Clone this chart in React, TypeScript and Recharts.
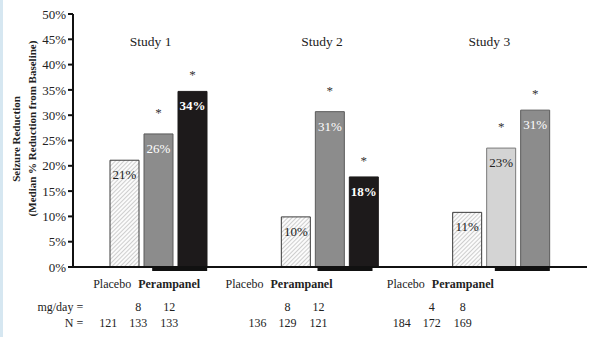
import React from 'react';
import { BarChart, Bar, XAxis, YAxis, Cell, LabelList } from 'recharts';

// ---------- data ----------
const studies = ['Study 1', 'Study 2', 'Study 3'];
const placebo = [21.1, 9.9, 10.8];
const doseLow = [26.3, 30.7, 23.5];
const doseHigh = [34.7, 17.8, 31.0];
const placeboLabels = ['21%', '10%', '11%'];
const doseLowLabels = ['26%', '31%', '23%'];
const doseHighLabels = ['34%', '18%', '31%'];
const doseLowSignificant = [true, true, true];
const doseHighSignificant = [true, true, true];
const doseLowMg = ['8', '8', '4'];
const doseHighMg = ['12', '12', '8'];
const nPlacebo = ['121', '136', '184'];
const nLow = ['133', '129', '172'];
const nHigh = ['133', '121', '169'];
const yTicks = [0, 5, 10, 15, 20, 25, 30, 35, 40, 45, 50];

// ---------- styles ----------
const FONT = '"Liberation Serif", "Times New Roman", Times, serif';
const INK = '#222';
const GRAY = '#8c8c8c';
const BLACK = '#1d1a1b';
const LIGHT = '#d4d4d4';
const lowFill = [GRAY, GRAY, LIGHT];
const lowStroke = ['#5a5a5a', '#5a5a5a', '#7a7a7a'];
const highFill = [BLACK, BLACK, GRAY];
const highStroke = [BLACK, BLACK, '#5a5a5a'];
const lowText = ['#fff', '#fff', INK];
const highText = ['#fff', '#fff', '#fff'];
const highBold = [true, true, false];

// layout shifts of the per-study annotation text (as in the reference)
const textShift = [0, -39, -49];
const numShift = [0, -22, -49];
const lineShift = [0, -6, 0];
const titleShift = [-8, -8, -12];

const data = studies.map((s, i) => ({
  study: s,
  placebo: placebo[i],
  low: doseLow[i],
  high: doseHigh[i],
}));

const makeLabel = (
  texts: string[],
  colors: string[],
  bold: boolean[],
  stars: boolean[] | null,
  starGap: number,
  values: number[]
) => (props: any) => {
  const vb = props.viewBox && props.viewBox.x !== undefined ? props.viewBox : props;
  const x = Number(vb.x);
  const y = Number(vb.y);
  const width = Number(vb.width);
  let i = props.index;
  if (i === undefined || i === null) i = values.indexOf(props.value);
  const cx = x + width / 2;
  return (
    <g>
      <text
        x={cx}
        y={y + 19}
        textAnchor="middle"
        fontSize={13}
        fontFamily={FONT}
        fill={colors[i]}
        fontWeight={bold[i] ? 'bold' : 'normal'}
      >
        {texts[i]}
      </text>
      {stars && stars[i] ? (
        <text x={cx} y={y - starGap + 6} textAnchor="middle" fontSize={13} fontFamily={FONT} fill="#333">
          *
        </text>
      ) : null}
    </g>
  );
};

function StudyTick(props: any) {
  const { x, y, payload } = props;
  const i = payload.index;
  const tx = x + textShift[i];
  const nx = x + numShift[i];
  return (
    <g fontFamily={FONT}>
      <text x={x + titleShift[i]} y={y - 221.5} textAnchor="middle" fontSize={13.5} fill={INK}>
        {payload.value}
      </text>
      <rect x={x + lineShift[i] - 6.5} y={y} width={55} height={4} fill="#111" />
      <text x={tx - 46.5} y={y + 21} textAnchor="middle" fontSize={12} fill={INK}>
        Placebo
      </text>
      <text x={tx + 10.5} y={y + 21} textAnchor="middle" fontSize={12} fontWeight="bold" fill={INK}>
        Perampanel
      </text>
      <text x={nx - 20.5} y={y + 44} textAnchor="middle" fontSize={12} fill={INK}>
        {doseLowMg[i]}
      </text>
      <text x={nx + 10.5} y={y + 44} textAnchor="middle" fontSize={12} fill={INK}>
        {doseHighMg[i]}
      </text>
      <text x={nx - 50.5} y={y + 59.5} textAnchor="middle" fontSize={12} fill={INK}>
        {nPlacebo[i]}
      </text>
      <text x={nx - 20.5} y={y + 59.5} textAnchor="middle" fontSize={12} fill={INK}>
        {nLow[i]}
      </text>
      <text x={nx + 10.5} y={y + 59.5} textAnchor="middle" fontSize={12} fill={INK}>
        {nHigh[i]}
      </text>
      {i === 0 ? (
        <>
          <text x={x - 75.5} y={y + 44} textAnchor="end" fontSize={12} fill={INK}>
            mg/day =
          </text>
          <text x={x - 75.5} y={y + 59.5} textAnchor="end" fontSize={12} fill={INK}>
            N =
          </text>
        </>
      ) : null}
    </g>
  );
}

function YTitle() {
  return (
    <g fontFamily={FONT} fontWeight="bold" fontSize={11} fill={INK}>
      <text x={16} y={139} textAnchor="middle" dominantBaseline="central" transform="rotate(-90, 16, 139)">
        Seizure Reduction
      </text>
      <text x={32} y={128.5} textAnchor="middle" dominantBaseline="central" transform="rotate(-90, 32, 128.5)">
        (Median % Reduction from Baseline)
      </text>
    </g>
  );
}

export default function App() {
  return (
    <div style={{ position: 'absolute', left: 0, top: 0, width: 602, height: 337, background: '#fff' }}>
      <div style={{ position: 'absolute', left: 0, top: 0, width: 3, height: 337, background: '#d6e7f1' }} />
      <svg width={0} height={0} style={{ position: 'absolute' }}>
        <defs>
          <pattern id="hatch" patternUnits="userSpaceOnUse" width={3} height={3} patternTransform="rotate(45)">
            <rect x={0} y={0} width={3} height={3} fill="#fbfbfb" />
            <line x1={0} y1={0} x2={0} y2={3} stroke="#b0b0b0" strokeWidth={1.2} />
          </pattern>
        </defs>
      </svg>
      <BarChart
        width={602}
        height={337}
        data={data}
        margin={{ top: 14, right: 15, left: 13, bottom: 10 }}
        barSize={29}
        barGap={5}
        style={{ position: 'absolute', left: 0, top: 0 }}
      >
        <XAxis
          dataKey="study"
          height={60}
          interval={0}
          tickSize={0}
          tickMargin={0}
          tickLine={false}
          axisLine={{ stroke: '#111', strokeWidth: 2 }}
          tick={<StudyTick />}
        />
        <YAxis
          width={60}
          domain={[0, 50]}
          ticks={yTicks}
          interval={0}
          tickFormatter={(v: number) => `${v}%`}
          axisLine={{ stroke: '#111', strokeWidth: 2 }}
          tickLine={{ stroke: '#111', strokeWidth: 2 }}
          tickSize={5}
          tickMargin={2}
          tick={{ fontSize: 13, fill: INK, fontFamily: FONT }}
          label={<YTitle />}
        />
        <Bar dataKey="placebo" isAnimationActive={false} fill="url(#hatch)" stroke="#3a3a3a" strokeWidth={1}>
          {data.map((_, i) => (
            <Cell key={i} fill="url(#hatch)" stroke="#3a3a3a" />
          ))}
          <LabelList
            dataKey="placebo"
            content={makeLabel(placeboLabels, [INK, INK, INK], [false, false, false], null, 0, placebo)}
          />
        </Bar>
        <Bar dataKey="low" isAnimationActive={false}>
          {data.map((_, i) => (
            <Cell key={i} fill={lowFill[i]} stroke={lowStroke[i]} strokeWidth={1} />
          ))}
          <LabelList
            dataKey="low"
            content={makeLabel(doseLowLabels, lowText, [false, false, false], doseLowSignificant, 23, doseLow)}
          />
        </Bar>
        <Bar dataKey="high" isAnimationActive={false}>
          {data.map((_, i) => (
            <Cell key={i} fill={highFill[i]} stroke={highStroke[i]} strokeWidth={1} />
          ))}
          <LabelList
            dataKey="high"
            content={makeLabel(doseHighLabels, highText, highBold, doseHighSignificant, 18, doseHigh)}
          />
        </Bar>
      </BarChart>
    </div>
  );
}
